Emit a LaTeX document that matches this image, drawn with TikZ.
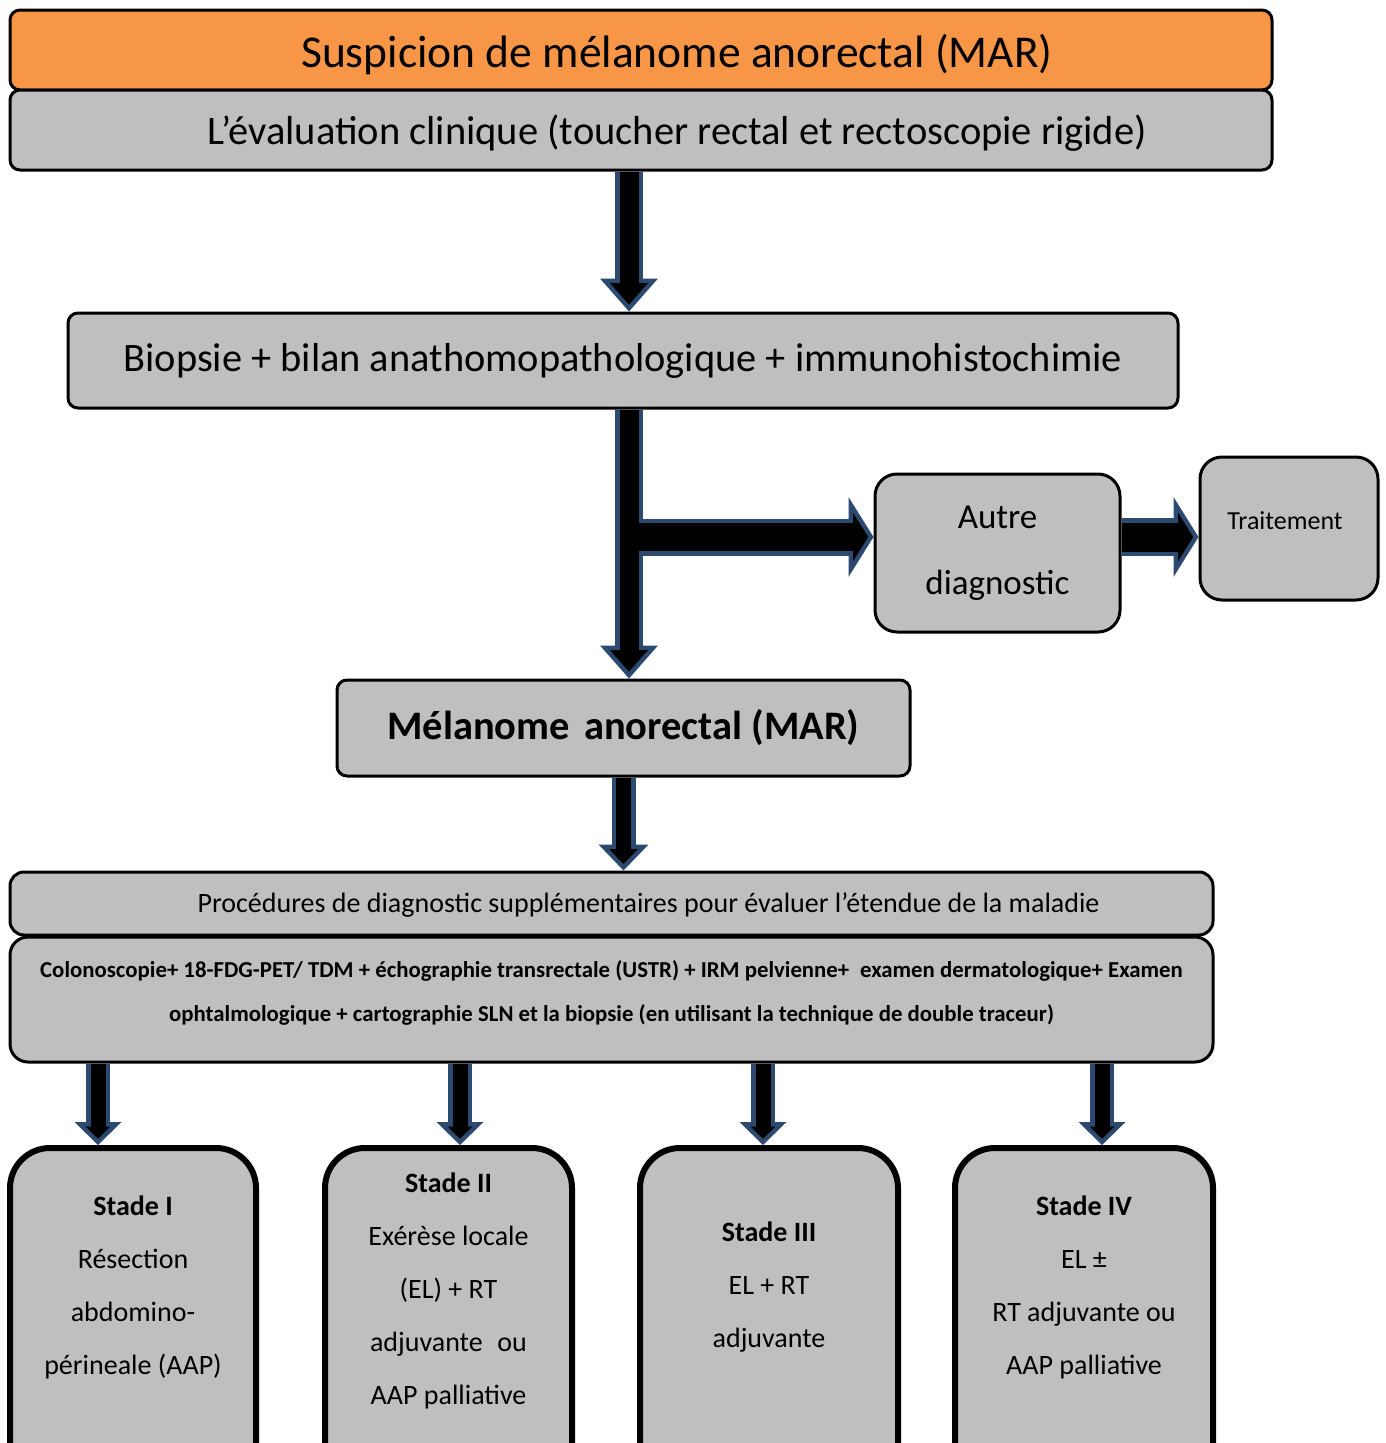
\documentclass[tikz,border=0pt]{standalone}
\usepackage{fontspec}
\setmainfont{Carlito}
\usetikzlibrary{arrows.meta,backgrounds}

\definecolor{mandarin}{HTML}{F79646}
\definecolor{boxgrey}{HTML}{BFBFBF}
\definecolor{arrowblue}{HTML}{2C4A70}

% Block arrow: black body with a dark blue rim.
% #1 shaft width, #2 head width, #3 head length, #4 start, #5 end (all in pt)
\newcommand\fatarrow[5]{%
  \pgfmathsetmacro\fatS{4.5*sqrt((#2/2)^2+(#3)^2)/(#2/2)}%
  \pgfmathsetmacro\fatL{#3-4.5-\fatS}%
  \pgfmathsetmacro\fatW{#2*\fatL/#3}%
  \pgfmathsetmacro\fatB{#1-9}%
  \draw[arrowblue, line width=#1pt,
        -{Triangle[length=#3pt,width=#2pt,line width=0pt]}] #4 -- #5;
  \draw[black, line width=\fatB pt, shorten >=\fatS pt,
        -{Triangle[length=\fatL pt,width=\fatW pt,line width=0pt]}] #4 -- #5;
}

% Single line of text set on a baseline #1 below the node centre
\newcommand\onbase[2]{\raisebox{-#1}[0pt][0pt]{#2}}

\begin{document}
\begin{tikzpicture}[x=1pt,y=-1pt,
  flat/.style={draw, line width=3pt, rounded corners=10pt, fill=boxgrey,
               inner sep=0pt, align=center, text=black},
  stadebox/.style={draw, line width=6pt, rounded corners=40pt, fill=boxgrey,
                   inner sep=0pt, anchor=north, minimum height=340pt},
  stadetext/.style={align=center, inner sep=0pt, font=\fontsize{28}{53}\selectfont}]

\useasboundingbox (0,0) rectangle (1386,1443);
\clip (0,0) rectangle (1386,1443);

% Header
\node[flat, fill=mandarin, minimum width=1262pt, minimum height=80pt,
      font=\fontsize{45.5}{50}\selectfont] (susp) at (641,50)
      {\onbase{17pt}{\hspace*{72pt}Suspicion de mélanome anorectal (MAR)}};
\node[flat, minimum width=1262pt, minimum height=80pt,
      font=\fontsize{40.5}{50}\selectfont] (eval) at (641,130)
      {\onbase{14pt}{\hspace*{72pt}L’évaluation clinique (toucher rectal et rectoscopie rigide)}};

% Diagnosis
\node[flat, minimum width=1110pt, minimum height=95pt,
      font=\fontsize{40.4}{48}\selectfont] (bio) at (623,360.5)
      {Biopsie + bilan anathomopathologique + immunohistochimie};
\node[flat, rounded corners=22pt, minimum width=245pt, minimum height=158pt,
      font=\fontsize{35}{66}\selectfont] (autre) at (997.5,553)
      {Autre\\diagnostic};
\node[flat, rounded corners=22pt, minimum width=178pt, minimum height=143pt,
      font=\fontsize{26}{30}\selectfont] (trait) at (1289,528.5)
      {\onbase{1pt}{\hspace*{-8pt}Traitement}};
\node[flat, minimum width=573pt, minimum height=96pt,
      font=\fontsize{40.5}{48}\selectfont\bfseries] (mel) at (623.5,728)
      {Mélanome\hspace{0.12em} anorectal (MAR)};

% Staging work-up
\node[flat, rounded corners=14pt, minimum width=1203pt, minimum height=63pt,
      font=\fontsize{28}{32}\selectfont] (proc) at (611.5,903.5)
      {\onbase{9pt}{\hspace*{74pt}Procédures de diagnostic supplémentaires pour évaluer l’étendue de la maladie}};
\node[flat, rounded corners=18pt, minimum width=1203pt, minimum height=125pt,
      font=\fontsize{22.8}{44}\selectfont\bfseries, text depth=16pt] (colon) at (611.5,999.5)
      {Colonoscopie+ 18-FDG-PET/ TDM + échographie transrectale (USTR) + IRM pelvienne+\hspace{0.25em} examen dermatologique+ Examen\\
       ophtalmologique + cartographie SLN et la biopsie (en utilisant la technique de double traceur)};

% Stages
\node[stadebox, minimum width=246pt] (s1) at (133,1145) {};
\node[stadebox, minimum width=247pt] (s2) at (448.5,1145) {};
\node[stadebox, minimum width=258pt] (s3) at (769,1145) {};
\node[stadebox, minimum width=258pt] (s4) at (1084,1145) {};

\node[stadetext] (t1) at ([yshift=-142pt]s1.north)
  {\textbf{Stade I}\\Résection\\abdomino-\\périneale (AAP)};
\node[stadetext] (t2) at ([yshift=-146pt]s2.north)
  {\textbf{Stade II}\\Exérèse locale\\(EL) + RT\\adjuvante\hspace{0.3em} ou\\AAP palliative};
\node[stadetext] (t3) at ([yshift=-142pt]s3.north)
  {\textbf{Stade III}\\EL + RT\\adjuvante};
\node[stadetext] (t4) at ([yshift=-142pt]s4.north)
  {\textbf{Stade IV}\\EL ±\\RT adjuvante ou\\AAP palliative};

% Connectors
\coordinate (a1) at ([xshift=-12pt]eval.south);
\coordinate (a2) at ([xshift=6pt]bio.south);
\coordinate (hy) at ([yshift=16pt]autre.west);
\coordinate (br) at ([xshift=10pt]a2 |- hy);
\coordinate (ty) at ([yshift=16pt]autre.east);
\coordinate (b1) at ([xshift=-35pt]s1.north);
\coordinate (b2) at ([xshift=11.5pt]s2.north);
\coordinate (b3) at ([xshift=-6pt]s3.north);
\coordinate (b4) at ([xshift=18pt]s4.north);

\begin{scope}[on background layer]
  \fatarrow{28}{58}{33}{(a1)}{(a1 |- bio.north)}
  \fatarrow{28}{58}{33}{(a2)}{(a2 |- mel.north)}
  \fatarrow{37}{80}{25}{(br)}{(hy)}
  \fatarrow{38}{80}{25}{(ty)}{(ty -| trait.west)}
  \fatarrow{24}{50}{26}{(mel.south)}{(mel.south |- proc.north)}
  \fatarrow{24}{47}{23}{(b1 |- colon.south)}{(b1)}
  \fatarrow{24}{47}{23}{(b2 |- colon.south)}{(b2)}
  \fatarrow{24}{47}{23}{(b3 |- colon.south)}{(b3)}
  \fatarrow{24}{47}{23}{(b4 |- colon.south)}{(b4)}
\end{scope}
\end{tikzpicture}
\end{document}
